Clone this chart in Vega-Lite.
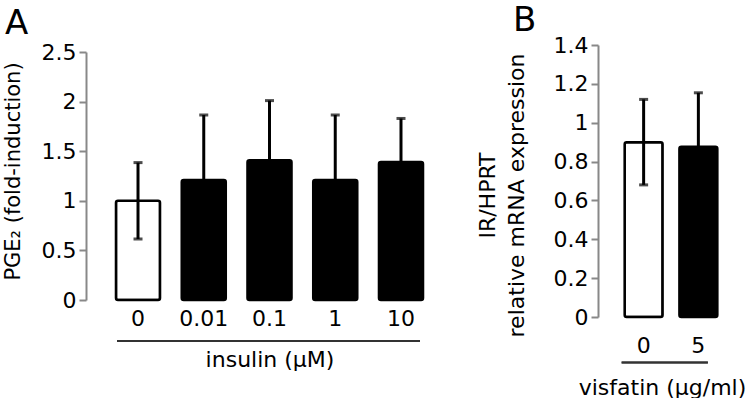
{
  "$schema": "https://vega.github.io/schema/vega-lite/v6.json",
  "padding": {"left": 2, "top": 4, "right": 0, "bottom": 0},
  "spacing": 23,
  "config": {
    "font": "DejaVu Sans",
    "view": {"stroke": null},
    "axis": {"labelFont": "DejaVu Sans", "titleFont": "DejaVu Sans", "labelColor": "black", "titleColor": "black", "grid": false, "titleFontWeight": "normal", "labelOverlap": false},
    "title": {"font": "DejaVu Sans", "fontWeight": "normal", "color": "black"}
  },
  "hconcat": [
    {
      "width": 367,
      "height": 255,
      "title": {"text": "A", "anchor": "start", "frame": "group", "dx": -81, "fontSize": 34, "baseline": "alphabetic", "offset": -27},
      "data": {"values": [
        {"dose": "0", "mean": 1.0, "sd": 0.385, "group": "control"},
        {"dose": "0.01", "mean": 1.21, "sd": 0.655, "group": "treated"},
        {"dose": "0.1", "mean": 1.41, "sd": 0.6, "group": "treated"},
        {"dose": "1", "mean": 1.21, "sd": 0.655, "group": "treated"},
        {"dose": "10", "mean": 1.39, "sd": 0.44, "group": "treated"}
      ]},
      "layer": [
        {
          "mark": {"type": "bar", "stroke": "black", "strokeWidth": 2.5, "cornerRadius": 2},
          "encoding": {
            "x": {"field": "dose", "type": "nominal", "sort": null,
              "scale": {"paddingInner": 0.33, "paddingOuter": 0.456},
              "axis": {"domain": false, "ticks": false, "tickSize": 0, "labelAngle": 0, "labelFontSize": 22, "labelPadding": 8, "title": "insulin (µM)", "titleFontSize": 22, "titlePadding": 20}},
            "y": {"field": "mean", "type": "quantitative", "title": "PGE₂ (fold-induction)",
              "scale": {"domain": [0, 2.5], "nice": false, "range": [255, 7]},
              "axis": {"values": [0, 0.5, 1, 1.5, 2, 2.5], "format": "~g", "labelOverlap": false, "domainColor": "#888", "domainWidth": 2, "tickColor": "#888", "tickWidth": 2, "tickSize": 7, "labelFontSize": 22, "labelPadding": 3, "titleFontSize": 21, "titlePadding": 18, "titleY": 126}},
            "fill": {"field": "group", "type": "nominal", "scale": {"domain": ["control", "treated"], "range": ["white", "black"]}, "legend": null}
          }
        },
        {
          "mark": {"type": "errorbar", "ticks": true, "size": 9, "thickness": 3, "color": "black"},
          "encoding": {
            "x": {"field": "dose", "type": "nominal", "sort": null},
            "y": {"field": "mean", "type": "quantitative", "title": "PGE₂ (fold-induction)",
              "axis": {"values": [0, 0.5, 1, 1.5, 2, 2.5], "format": "~g", "labelOverlap": false, "domainColor": "#888", "domainWidth": 2, "tickColor": "#888", "tickWidth": 2, "tickSize": 7, "labelFontSize": 22, "labelPadding": 3, "titleFontSize": 21, "titlePadding": 18, "titleY": 126}},
            "yError": {"field": "sd"}
          }
        },
        {
          "mark": {"type": "rule", "color": "#333", "strokeWidth": 2, "xOffset": -21, "x2Offset": 19},
          "encoding": {"x": {"datum": "0"}, "x2": {"datum": "10"}, "y": {"datum": -0.413}}
        }
      ]
    },
    {
      "width": 146,
      "height": 272,
      "title": {"text": "B", "anchor": "start", "frame": "group", "dx": -85, "fontSize": 34, "baseline": "alphabetic", "offset": -31},
      "data": {"values": [
        {"dose": "0", "mean": 0.9, "sd": 0.22, "group": "control"},
        {"dose": "5", "mean": 0.876, "sd": 0.278, "group": "treated"}
      ]},
      "layer": [
        {
          "mark": {"type": "bar", "stroke": "black", "strokeWidth": 2.5, "cornerRadius": 2},
          "encoding": {
            "x": {"field": "dose", "type": "nominal", "sort": null,
              "scale": {"paddingInner": 0.307, "paddingOuter": 0.487},
              "axis": {"domain": false, "ticks": false, "tickSize": 0, "labelAngle": 0, "labelFontSize": 22, "labelPadding": 18, "title": "visfatin (µg/ml)", "titleFontSize": 22, "titlePadding": 21, "titleX": 64}},
            "y": {"field": "mean", "type": "quantitative", "title": ["IR/HPRT", "relative mRNA expression"],
              "scale": {"domain": [0, 1.4], "nice": false},
              "axis": {"values": [0, 0.2, 0.4, 0.6, 0.8, 1, 1.2, 1.4], "tickCount": 8, "format": "~g", "labelOverlap": false, "domainColor": "#888", "domainWidth": 2, "tickColor": "#888", "tickWidth": 2, "tickSize": 7, "labelFontSize": 22, "labelPadding": 3, "titleFontSize": 22, "titleLineHeight": 29, "titlePadding": 25, "titleY": 150}},
            "fill": {"field": "group", "type": "nominal", "scale": {"domain": ["control", "treated"], "range": ["white", "black"]}, "legend": null}
          }
        },
        {
          "mark": {"type": "errorbar", "ticks": true, "size": 9, "thickness": 3, "color": "black"},
          "encoding": {
            "x": {"field": "dose", "type": "nominal", "sort": null},
            "y": {"field": "mean", "type": "quantitative", "title": ["IR/HPRT", "relative mRNA expression"],
              "axis": {"values": [0, 0.2, 0.4, 0.6, 0.8, 1, 1.2, 1.4], "tickCount": 8, "format": "~g", "labelOverlap": false, "domainColor": "#888", "domainWidth": 2, "tickColor": "#888", "tickWidth": 2, "tickSize": 7, "labelFontSize": 22, "labelPadding": 3, "titleFontSize": 22, "titleLineHeight": 29, "titlePadding": 25, "titleY": 150}},
            "yError": {"field": "sd"}
          }
        },
        {
          "mark": {"type": "rule", "color": "#333", "strokeWidth": 2, "xOffset": -22, "x2Offset": 9.5},
          "encoding": {"x": {"datum": "0"}, "x2": {"datum": "5"}, "y": {"datum": -0.234}}
        }
      ]
    }
  ]
}
